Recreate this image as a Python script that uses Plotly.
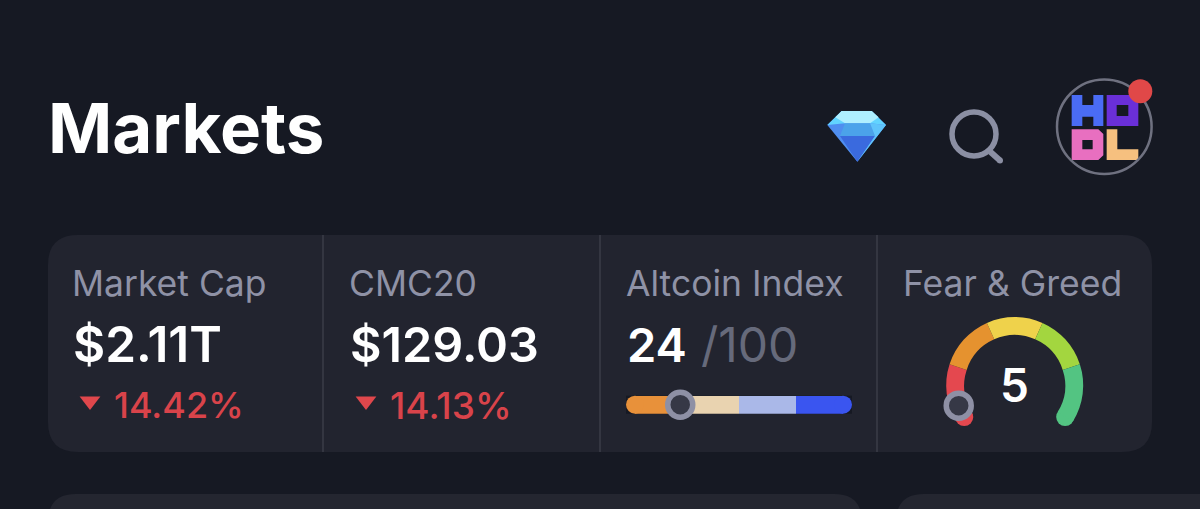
import math
import plotly.graph_objects as go

W = 1200
H = 509

# values
card_titles = ["Market Cap", "CMC20", "Altcoin Index", "Fear & Greed"]
card_values = ["$2.11T", "$129.03", "24"]
card_changes = ["14.42%", "14.13%"]
altcoin_index = 24
altcoin_bands = [25, 25, 25, 25]
altcoin_colors = ["#e8913a", "#e9d3b0", "#aab8e8", "#3a55f0"]
greed_value = 5
gauge_bands = [20.5, 19.7, 19.6, 19.7, 20.5]
gauge_colors = ["#e4484f", "#e5922f", "#efd24b", "#a3d63f", "#53c482"]
gauge_sweep = 244

BG = "#161923"
CARD = "#22242f"
GREY = "#8f92a6"
RED = "#d9434a"
THUMB = "#8e90a5"
THUMB_IN = "#363846"
FONT = "Inter, Roboto, sans-serif"


def box(x0, y0, x1, y1, r):
    return (f"M{x0+r},{y0} L{x1-r},{y0} Q{x1},{y0} {x1},{y0+r} L{x1},{y1-r} Q{x1},{y1} {x1-r},{y1} "
            f"L{x0+r},{y1} Q{x0},{y1} {x0},{y1-r} L{x0},{y0+r} Q{x0},{y0} {x0+r},{y0} Z")


def poly(points, scale=3, ox=800, oy=60):
    pts = [f"{ox+a/scale},{oy+b/scale}" for a, b in points]
    return "M" + " L".join(pts) + " Z"


shapes = []


def fill(path, color):
    shapes.append(dict(type="path", path=path, fillcolor=color, line_width=0, layer="below"))


def dot(x, y, r, color, layer="below", line=None):
    shapes.append(dict(type="circle", x0=x - r, x1=x + r, y0=y - r, y1=y + r, fillcolor=color, layer=layer,
                       line=line or dict(width=0)))


# cards
fill(box(48, 235, 1152, 452, 30), CARD)
fill(box(48, 494, 862, 560, 28), "#242630")
fill(box(896, 494, 1250, 560, 28), "#242630")
for x in [323, 600, 877]:
    shapes.append(dict(type="line", x0=x, x1=x, y0=235, y1=452, line=dict(color="#343641", width=2), layer="below"))

# diamond
fill(poly([(125, 153), (215, 153), (258, 195), (172, 305), (82, 195)]), "#4f8ef0")
fill(poly([(125, 153), (215, 153), (258, 195), (210, 190), (135, 190), (82, 195)]), "#62d4ff")
fill(poly([(125, 153), (215, 153), (236, 172), (210, 190), (135, 190), (106, 172)]), "#aeefff")
fill(poly([(135, 190), (210, 190), (225, 228), (120, 228)]), "#4ba3ea")
fill(poly([(120, 228), (225, 228), (172, 305)]), "#3a6ade")
fill(poly([(258, 195), (210, 190), (225, 228), (172, 305)]), "#5fc4fb")

# search icon
shapes.append(dict(type="circle", x0=952, x1=996, y0=112, y1=156, line=dict(color="#8b8fa3", width=5.5), layer="below"))
shapes.append(dict(type="line", x0=990, x1=1000, y0=151.5, y1=160.5, line=dict(color="#8b8fa3", width=6), layer="below"))
dot(1000, 160.5, 3, "#8b8fa3")

# HODL logo
fill(poly([(815, 105), (847, 105), (847, 135), (880, 135), (880, 105), (910, 105), (910, 198), (880, 198),
           (880, 170), (847, 170), (847, 198), (815, 198)]), "#4a6cf5")
fill(poly([(920, 105), (1015, 105), (1015, 198), (920, 198), (920, 105), (950, 135), (950, 168), (985, 168),
           (985, 135), (950, 135)]), "#6a2fd8")
fill(poly([(815, 208), (895, 208), (910, 222), (910, 286), (895, 300), (815, 300), (815, 208), (847, 240),
           (847, 268), (878, 268), (878, 240), (847, 240)]), "#e86fc0")
fill(poly([(920, 208), (952, 208), (952, 268), (1015, 268), (1015, 300), (920, 300)]), "#f6c07f")
shapes.append(dict(type="circle", x0=1057, x1=1151.6, y0=79.4, y1=174, line=dict(color="#6f7180", width=2.5), layer="below"))
dot(1140.3, 91.3, 12, "#e04848")

fig = go.Figure()

# altcoin slider, the outer two bands stop short and a round cap closes each end
cap = 9 / 226 * 100
start = 0
for i, (band, color) in enumerate(zip(altcoin_bands, altcoin_colors)):
    base, width = start, band
    if i == 0:
        base, width = start + cap, band - cap
    if i == len(altcoin_bands) - 1:
        width = band - cap
    fig.add_trace(go.Bar(x=[width], y=[0], base=[base], orientation="h", width=1, xaxis="x2", yaxis="y2",
                         marker=dict(color=color, line_width=0)))
    start += band
fig.add_trace(go.Scatter(x=[cap, 100 - cap], y=[0, 0], mode="markers", xaxis="x2", yaxis="y2", cliponaxis=False,
                         marker=dict(size=18, color=[altcoin_colors[0], altcoin_colors[-1]], line_width=0)))
fig.add_trace(go.Scatter(x=[altcoin_index], y=[0], mode="markers", xaxis="x2", yaxis="y2", cliponaxis=False,
                         marker=dict(size=25, color=THUMB_IN, line=dict(color=THUMB, width=5.5))))

# fear & greed gauge
cx, cy, r_out, r_in = 1014.7, 385.5, 68.5, 50.5
fig.add_trace(go.Pie(values=gauge_bands + [100 * (360 - gauge_sweep) / gauge_sweep], sort=False, direction="clockwise",
                     rotation=-gauge_sweep / 2,
                     hole=r_in / r_out, textinfo="none", showlegend=False,
                     marker=dict(colors=gauge_colors + ["rgba(0,0,0,0)"], line_width=0),
                     domain=dict(x=[(cx - r_out) / W, (cx + r_out) / W], y=[1 - (cy + r_out) / H, 1 - (cy - r_out) / H])))


def on_gauge(pct):
    a = math.radians(90 + gauge_sweep / 2 - gauge_sweep * pct / 100)
    return cx + (r_out + r_in) / 2 * math.cos(a), cy - (r_out + r_in) / 2 * math.sin(a)


for pct, color in [(0, gauge_colors[0]), (100, gauge_colors[-1])]:
    x, y = on_gauge(pct)
    fig.add_trace(go.Scatter(x=[x], y=[y], mode="markers", marker=dict(size=18, color=color, line_width=0)))
# the pie sits over the cartesian layer, so the thumb has to be an upper shape
x, y = on_gauge(greed_value)
dot(x, y, 12.5, THUMB_IN, "above", dict(color=THUMB, width=5.5))

# change arrows
fig.add_trace(go.Scatter(x=[90, 366], y=[401, 401], mode="markers", marker=dict(symbol="triangle-down", size=18, color="#e0474c", line_width=0)))


def label(x, y, text, size, color, weight=400, anchor="left"):
    fig.add_annotation(x=x, y=y, text=text, showarrow=False, xanchor=anchor, yanchor="middle", xref="x", yref="y",
                       font=dict(family=FONT, size=size, color=color, weight=weight))


label(46, 128, "Markets", 69, "#ffffff", 700)
for x, title in zip([70, 347, 624, 901], card_titles):
    label(x, 283, title, 35.5, GREY)
label(71, 344, card_values[0], 49.5, "#ffffff", 600)
label(348, 344, card_values[1], 48.5, "#ffffff", 600)
label(625, 344, card_values[2], 47, "#ffffff", 600)
label(699, 344, "/100", 48, "#666a7b")
label(111.5, 405, card_changes[0], 36, RED, 500)
label(388, 405, card_changes[1], 37, RED, 500)
label(1014.5, 385, str(greed_value), 46, "#ffffff", 600, "center")

fig.update_layout(
    width=W, height=H, margin=dict(l=0, r=0, t=0, b=0), paper_bgcolor=BG, plot_bgcolor=BG,
    showlegend=False, barmode="overlay", bargap=0, shapes=shapes, hovermode=False,
    xaxis=dict(range=[0, W], visible=False, domain=[0, 1]),
    yaxis=dict(range=[H, 0], visible=False, domain=[0, 1]),
    xaxis2=dict(range=[0, 100], visible=False, domain=[626 / W, 852 / W], anchor="y2"),
    yaxis2=dict(range=[-0.5, 0.5], visible=False, domain=[1 - 413.7 / H, 1 - 395.7 / H], anchor="x2"),
)

fig.write_html("out.html", config=dict(displayModeBar=False), post_script="document.body.style.margin='0';")
